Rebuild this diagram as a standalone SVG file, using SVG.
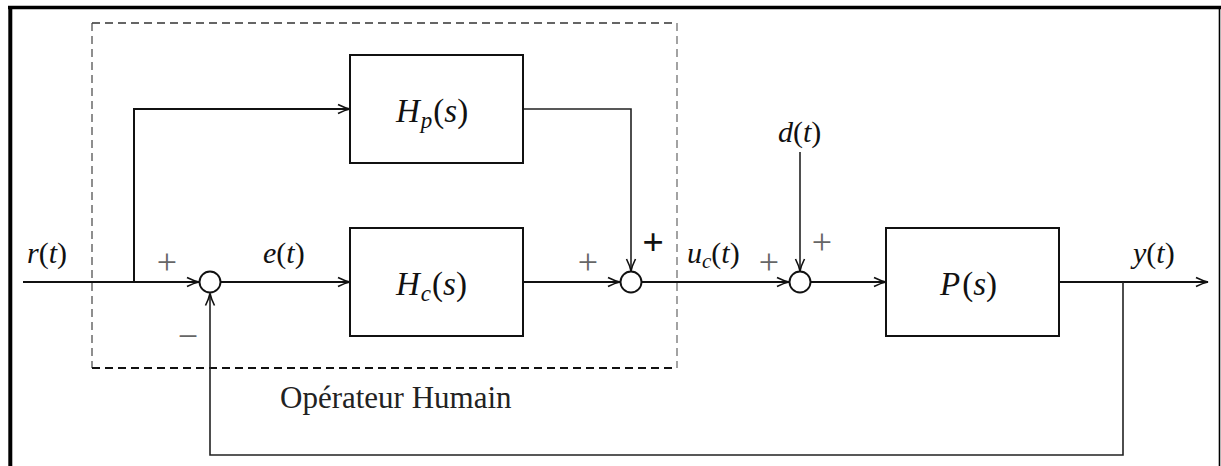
<svg xmlns="http://www.w3.org/2000/svg" width="1221" height="466" viewBox="0 0 1221 466">
<style>
.ln{fill:none;stroke:#111;stroke-width:2}
.thin{fill:none;stroke:#222;stroke-width:1.6}
.box{fill:#fff;stroke:#111;stroke-width:2}
.sum{fill:#fff;stroke:#111;stroke-width:1.9}
.m{font-family:"Liberation Serif",serif;font-size:30px;fill:#111}
.big{font-family:"Liberation Serif",serif;font-size:33px;fill:#111}
.i{font-style:italic}
.sg{font-family:"Liberation Serif",serif;font-size:36px;fill:#666;text-anchor:middle}
.sgb{font-family:"Liberation Serif",serif;font-size:38px;fill:#111;text-anchor:middle;font-weight:bold}
.cap{font-family:"Liberation Serif",serif;font-size:31px;fill:#222}
</style>
<defs>
<marker id="ah" markerUnits="userSpaceOnUse" markerWidth="16" markerHeight="12" viewBox="-13 -6 14 12" refX="0" refY="0" orient="auto" overflow="visible">
<path d="M-12,-4.5 Q-5,-1 0,0 Q-5,1 -12,4.5" fill="none" stroke="#111" stroke-width="1.6"/>
</marker>
</defs>
<rect width="1221" height="466" fill="#fff"/>
<g id="frame">
<line x1="8" y1="7.5" x2="1221" y2="7.5" stroke="#000" stroke-width="3.5"/>
<line x1="10.3" y1="6" x2="10.3" y2="466" stroke="#000" stroke-width="4"/>
<line x1="1219.5" y1="6" x2="1219.5" y2="466" stroke="#000" stroke-width="1.6"/>
</g>
<g id="human-operator">
<line x1="92" y1="23" x2="677" y2="23" stroke="#333" stroke-width="1.3" stroke-dasharray="8,5"/>
<line x1="92" y1="23" x2="92" y2="368" stroke="#444" stroke-width="1.2" stroke-dasharray="8,5"/>
<line x1="677" y1="23" x2="677" y2="368" stroke="#666" stroke-width="1.2" stroke-dasharray="8,5"/>
<line x1="92" y1="368" x2="677" y2="368" stroke="#111" stroke-width="2" stroke-dasharray="8,5"/>
<text class="cap" x="280" y="408">Opérateur Humain</text>
</g>
<g id="connectors">
<path class="ln" d="M23,282 H199" marker-end="url(#ah)"/>
<path class="ln" d="M134,282 V109 H350" marker-end="url(#ah)"/>
<path class="ln" d="M221,282 H350" marker-end="url(#ah)"/>
<path class="ln" d="M523,282 H620" marker-end="url(#ah)"/>
<path class="thin" d="M523,109 H631 V271" marker-end="url(#ah)"/>
<path class="ln" d="M642,282 H789" marker-end="url(#ah)"/>
<path class="thin" d="M800,152 V271" marker-end="url(#ah)"/>
<path class="ln" d="M811,282 H886" marker-end="url(#ah)"/>
<path class="ln" d="M1059,282 H1208" marker-end="url(#ah)"/>
<path class="thin" d="M1123,282 V455 H210 V293.5" marker-end="url(#ah)"/>
</g>
<g id="Hp">
<rect class="box" x="350" y="55" width="173" height="108"/>
<text class="big" x="396" y="122"><tspan class="i">H</tspan><tspan class="i" font-size="23" dy="6" dx="1">p</tspan><tspan dy="-6" dx="1">(</tspan><tspan class="i">s</tspan>)</text>
</g>
<g id="Hc">
<rect class="box" x="350" y="228" width="173" height="108"/>
<text class="big" x="396" y="295"><tspan class="i">H</tspan><tspan class="i" font-size="23" dy="6" dx="1">c</tspan><tspan dy="-6" dx="1">(</tspan><tspan class="i">s</tspan>)</text>
</g>
<g id="P">
<rect class="box" x="886" y="228" width="173" height="108"/>
<text class="big" x="940" y="295"><tspan class="i">P</tspan><tspan dx="2">(</tspan><tspan class="i">s</tspan>)</text>
</g>
<g id="sum1">
<circle class="sum" cx="210" cy="282" r="10.5"/>
<text class="sg" x="167" y="274">+</text>
<text class="sg" x="188" y="348">−</text>
</g>
<g id="sum2">
<circle class="sum" cx="631" cy="282" r="10.5"/>
<text class="sg" x="588" y="274">+</text>
<text class="sgb" x="653" y="255">+</text>
</g>
<g id="sum3">
<circle class="sum" cx="800" cy="282" r="10.5"/>
<text class="sg" x="769" y="274">+</text>
<text class="sg" x="822" y="254">+</text>
</g>
<g id="labels">
<text class="m" x="27" y="263"><tspan class="i">r</tspan>(<tspan class="i">t</tspan>)</text>
<text class="m" x="263" y="263"><tspan class="i">e</tspan>(<tspan class="i">t</tspan>)</text>
<text class="m" x="687" y="263"><tspan class="i">u</tspan><tspan class="i" font-size="21" dy="5">c</tspan><tspan dy="-5">(</tspan><tspan class="i">t</tspan>)</text>
<text class="m" x="778" y="142"><tspan class="i">d</tspan>(<tspan class="i">t</tspan>)</text>
<text class="m" x="1133" y="263"><tspan class="i">y</tspan>(<tspan class="i">t</tspan>)</text>
</g>
</svg>
